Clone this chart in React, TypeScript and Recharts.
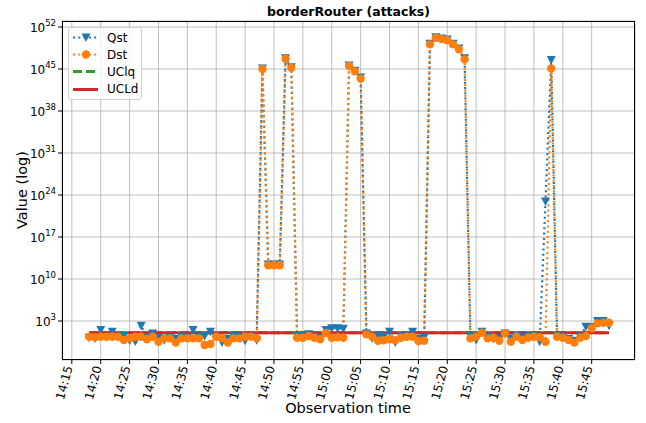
import React from 'react';
import { ComposedChart, Line, XAxis, YAxis, CartesianGrid } from 'recharts';

const times = [
  '14:18', '14:19', '14:20', '14:21', '14:22', '14:23', '14:24', '14:25', '14:26', '14:27',
  '14:28', '14:29', '14:30', '14:31', '14:32', '14:33', '14:34', '14:35', '14:36', '14:37',
  '14:38', '14:39', '14:40', '14:41', '14:42', '14:43', '14:44', '14:45', '14:46', '14:47',
  '14:48', '14:49', '14:50', '14:51', '14:52', '14:53', '14:54', '14:55', '14:56', '14:57',
  '14:58', '14:59', '15:00', '15:01', '15:02', '15:03', '15:04', '15:05', '15:06', '15:07',
  '15:08', '15:09', '15:10', '15:11', '15:12', '15:13', '15:14', '15:15', '15:16', '15:17',
  '15:18', '15:19', '15:20', '15:21', '15:22', '15:23', '15:24', '15:25', '15:26', '15:27',
  '15:28', '15:29', '15:30', '15:31', '15:32', '15:33', '15:34', '15:35', '15:36', '15:37',
  '15:38', '15:39', '15:40', '15:41', '15:42', '15:43', '15:44', '15:45', '15:46', '15:47',
  '15:48',
];

const qst = [
  1.6, 1.26, 32, 2.0, 16, 2.0, 3.2, 0.5, 0.4, 160,
  2.0, 7.9, 1.6, 0.63, 2.0, 1.0, 2.5, 2.0, 32, 2.5,
  3.2, 16, 2.0, 0.25, 1.0, 3.2, 2.5, 0.5, 2.5, 0.63,
  1.26e45, 2.5e12, 2.5e12, 2.5e12, 6.3e46, 2e45, 3.2, 2.5, 6.3, 2.0,
  1.6, 32, 63, 63, 50, 4e45, 5e44, 4e43, 7.9, 1.26,
  4.0, 2.5, 16, 0.25, 3.2, 4.0, 16, 1.0, 2.0, 1.6e49,
  2e50, 1.26e50, 7.9e49, 1.6e49, 2.5e48, 6.3e46, 3.2, 0.68, 16, 2.5,
  1.0, 1.6, 7.9, 1.26, 3.2, 1.6, 2.5, 3.2, 0.35, 8e22,
  3.2e46, 3.2, 2.0, 1.0, 0.5, 2.5, 112, 100, 1000, 1000,
  160,
];

const dst = [
  2.4, 2.0, 2.4, 2.4, 2.4, 2.4, 0.68, 1.26, 2.4, 2.4,
  0.89, 2.4, 0.35, 1.26, 1.26, 0.25, 1.26, 1.26, 1.26, 1.26,
  0.1, 0.15, 2.4, 1.26, 0.25, 1.26, 1.26, 2.4, 2.5, 1.26,
  1e45, 2e12, 2e12, 2e12, 5e46, 1.6e45, 1.66, 1.66, 3.2, 1.66,
  0.89, 8.9, 1.66, 2.0, 1.66, 3.2e45, 4e44, 2.5e43, 6.0, 2.4,
  0.5, 0.63, 0.89, 0.63, 1.66, 2.4, 2.4, 0.47, 0.5, 1.26e49,
  1.6e50, 1e50, 6.3e49, 1.26e49, 2e48, 4e46, 1.26, 2.5, 11, 1.26,
  1.6, 0.5, 8.9, 0.35, 2.4, 0.68, 1.6, 2.4, 2.0, 0.35,
  1.26e45, 2.4, 1.6, 0.68, 0.25, 1.6, 3.2, 63, 400, 500,
  500,
];

const uclq = 11;
const ucld = 11;

const xTicks = [
  '14:15', '14:20', '14:25', '14:30', '14:35', '14:40', '14:45', '14:50', '14:55', '15:00',
  '15:05', '15:10', '15:15', '15:20', '15:25', '15:30', '15:35', '15:40', '15:45',
];
const yTicks = [1e3, 1e10, 1e17, 1e24, 1e31, 1e38, 1e45, 1e52];

const BLUE = '#1f77b4';
const ORANGE = '#ff7f0e';
const GREEN = '#2ca02c';
const RED = '#d62728';
const FONT = '"DejaVu Sans", sans-serif';

const toMin = (s: string) => {
  const [h, m] = s.split(':').map(Number);
  return h * 60 + m;
};
const fmtMin = (v: number) => {
  const h = Math.floor(v / 60);
  const m = Math.round(v - h * 60);
  return `${h}:${String(m).padStart(2, '0')}`;
};

const data = times.map((t, i) => ({
  t: toMin(t),
  qst: qst[i],
  dst: dst[i],
  uclq,
  ucld,
}));

const TriDot = (props: any) => {
  const { cx, cy, index } = props;
  if (cx == null || cy == null) return <g key={`q${index}`} />;
  return (
    <path
      key={`q${index}`}
      d={`M${cx - 4.5},${cy - 4} L${cx + 4.5},${cy - 4} L${cx},${cy + 4.5} Z`}
      fill={BLUE}
    />
  );
};

const CircleDot = (props: any) => {
  const { cx, cy, index } = props;
  if (cx == null || cy == null) return <g key={`d${index}`} />;
  return <circle key={`d${index}`} cx={cx} cy={cy} r={4.2} fill={ORANGE} />;
};

const PowTick = (props: any) => {
  const { x, y, payload } = props;
  const exp = Math.round(Math.log10(payload.value));
  return (
    <text x={x} y={y} textAnchor="end" fontFamily={FONT} fill="#000">
      <tspan dy={4.5} fontSize={12}>10</tspan>
      <tspan dy={-6} fontSize={8.5}>{exp}</tspan>
    </text>
  );
};

const TimeTick = (props: any) => {
  const { x, y, payload } = props;
  return (
    <g transform={`translate(${x + 1},${y + 1})`}>
      <text textAnchor="end" transform="rotate(-75)" fontSize={12} fontFamily={FONT} fill="#000">
        {fmtMin(payload.value)}
      </text>
    </g>
  );
};

const legendItems = [
  { name: 'Qst', color: BLUE, kind: 'tri' },
  { name: 'Dst', color: ORANGE, kind: 'dot' },
  { name: 'UClq', color: GREEN, kind: 'dash' },
  { name: 'UCLd', color: RED, kind: 'solid' },
];

const LegendBox = () => (
  <div
    style={{
      position: 'absolute', left: 68, top: 27, width: 72, height: 71,
      border: '1px solid #d0d0d0', borderRadius: 3, background: 'rgba(255,255,255,0.8)',
      fontFamily: FONT, fontSize: 12,
    }}
  >
    {legendItems.map((it, i) => (
      <div key={it.name} style={{ position: 'absolute', left: 0, top: 1 + i * 17.2, height: 17, display: 'flex', alignItems: 'center' }}>
        <svg width={36} height={17} style={{ display: 'block' }}>
          {it.kind === 'tri' && (
            <g>
              <line x1={4} x2={29} y1={8.5} y2={8.5} stroke={it.color} strokeWidth={2} strokeDasharray="2 3.3" />
              <path d="M12.5,4.5 L21.5,4.5 L17,13 Z" fill={it.color} />
            </g>
          )}
          {it.kind === 'dot' && (
            <g>
              <line x1={4} x2={29} y1={8.5} y2={8.5} stroke={it.color} strokeWidth={2} strokeDasharray="2 3.3" />
              <circle cx={17} cy={8.5} r={4.2} fill={it.color} />
            </g>
          )}
          {it.kind === 'dash' && (
            <line x1={4} x2={29} y1={8.5} y2={8.5} stroke={it.color} strokeWidth={3} strokeDasharray="9 4" />
          )}
          {it.kind === 'solid' && (
            <line x1={4} x2={29} y1={8.5} y2={8.5} stroke={it.color} strokeWidth={3} />
          )}
        </svg>
        <span style={{ marginLeft: 2 }}>{it.name}</span>
      </div>
    ))}
  </div>
);

export default function App() {
  return (
    <div style={{ position: 'absolute', left: 0, top: 0, width: 646, height: 423, background: '#fff', fontFamily: FONT }}>
      <ComposedChart
        width={646}
        height={423}
        data={data}
        margin={{ top: 21, right: 11, bottom: 0, left: 0 }}
      >
        <CartesianGrid stroke="#b0b0b0" strokeWidth={0.8} />
        <XAxis
          dataKey="t"
          type="number"
          domain={[853.3, 952.5]}
          ticks={xTicks.map(toMin)}
          allowDataOverflow
          height={63}
          tickSize={4}
          tickMargin={2}
          axisLine={false}
          tickLine={{ stroke: '#000' }}
          tick={<TimeTick />}
          interval={0}
        />
        <YAxis
          scale="log"
          type="number"
          domain={[Math.pow(10, -3.5), 1e53]}
          ticks={yTicks}
          allowDataOverflow
          width={62}
          tickSize={4}
          tickMargin={2}
          axisLine={false}
          tickLine={{ stroke: '#000' }}
          tick={<PowTick />}
          interval={0}
        />
        <Line dataKey="qst" stroke={BLUE} strokeWidth={2.2} strokeDasharray="2 3.3" dot={TriDot} activeDot={false} isAnimationActive={false} />
        <Line dataKey="dst" stroke={ORANGE} strokeWidth={2.2} strokeDasharray="2 3.3" strokeDashoffset={2.6} dot={CircleDot} activeDot={false} isAnimationActive={false} />
        <Line dataKey="uclq" stroke={GREEN} strokeWidth={3} strokeDasharray="9 4" dot={false} activeDot={false} isAnimationActive={false} />
        <Line dataKey="ucld" stroke={RED} strokeWidth={3} dot={false} activeDot={false} isAnimationActive={false} />
      </ComposedChart>
      <div style={{ position: 'absolute', left: 62, top: 21, width: 573, height: 339, border: '1px solid #000', boxSizing: 'border-box', pointerEvents: 'none' }} />
      <LegendBox />
      <div style={{ position: 'absolute', left: 62, width: 573, top: 4, textAlign: 'center', fontWeight: 'bold', fontSize: 12.5 }}>
        borderRouter (attacks)
      </div>
      <div style={{ position: 'absolute', left: 22, top: 190, transform: 'translate(-50%,-50%) rotate(-90deg)', whiteSpace: 'nowrap', fontSize: 14.5 }}>
        Value (log)
      </div>
      <div style={{ position: 'absolute', left: 348, top: 408, transform: 'translate(-50%,-50%)', whiteSpace: 'nowrap', fontSize: 14.5 }}>
        Observation time
      </div>
    </div>
  );
}
